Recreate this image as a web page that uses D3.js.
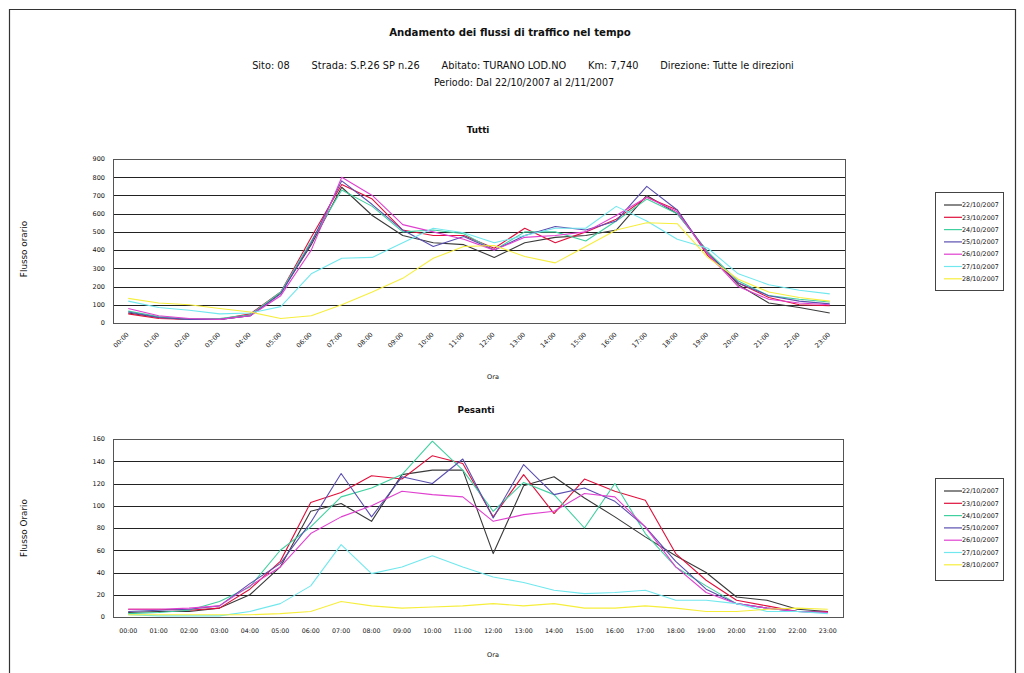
<!DOCTYPE html>
<html><head><meta charset="utf-8">
<script src="https://cdn.jsdelivr.net/npm/d3@7"></script>
<style>body{margin:0;background:#fff}svg{display:block}text{font-family:"DejaVu Sans",Verdana,sans-serif;fill:#111}</style>
</head><body>
<script>
const hours = ["00:00","01:00","02:00","03:00","04:00","05:00","06:00","07:00","08:00","09:00","10:00","11:00","12:00","13:00","14:00","15:00","16:00","17:00","18:00","19:00","20:00","21:00","22:00","23:00"];
const days = ["22/10/2007","23/10/2007","24/10/2007","25/10/2007","26/10/2007","27/10/2007","28/10/2007"];
const dayColors = ["#3a3a3a","#e0103c","#40d0a0","#5a4fb0","#e040d0","#70e8ee","#f6ee3c"];
const tuttiTicks = [0,100,200,300,400,500,600,700,800,900];
const pesantiTicks = [0,20,40,60,80,100,120,140,160];

// Tutti (all vehicles) hourly flows
const tutti22 = [55,30,20,20,40,165,430,745,590,480,440,430,360,440,470,480,510,700,600,390,210,110,85,55];
const tutti23 = [50,25,20,20,50,170,470,760,680,510,480,480,410,520,440,500,570,690,620,370,220,140,100,95];
const tutti24 = [65,35,20,25,45,170,450,730,640,500,510,490,400,500,500,450,560,680,600,390,230,150,130,115];
const tutti25 = [60,30,20,20,40,160,440,780,650,510,420,475,400,480,530,510,560,750,620,380,220,150,120,105];
const tutti26 = [80,40,25,20,40,150,400,800,700,540,500,460,400,470,480,500,590,690,610,380,200,130,110,100];
const tutti27 = [120,85,70,50,55,90,270,355,360,440,520,495,440,480,520,520,640,560,460,410,270,210,180,160];
const tutti28 = [135,110,100,80,60,25,40,100,170,245,355,420,425,365,330,420,510,550,545,360,240,170,140,120];

// Pesanti (heavy vehicles) hourly flows
const pes22 = [4,5,5,8,20,45,95,102,86,128,132,132,57,118,126,107,90,72,55,40,18,15,7,5];
const pes23 = [7,7,6,8,25,50,103,112,127,124,145,138,90,128,93,124,113,105,57,33,15,10,5,5];
const pes24 = [3,4,6,14,27,60,81,108,116,128,158,132,95,121,110,80,120,75,45,28,12,8,5,4];
const pes25 = [5,6,7,10,30,48,85,129,90,126,120,142,89,137,110,116,104,81,50,25,12,8,5,4];
const pes26 = [7,7,8,10,28,45,75,90,100,113,110,108,86,92,95,111,108,81,45,22,12,8,5,4];
const pes27 = [2,1,1,1,5,12,28,65,39,45,55,45,36,31,24,21,22,24,15,15,12,5,5,3];
const pes28 = [2,2,2,2,2,3,5,14,10,8,9,10,12,10,12,8,8,10,8,5,5,7,8,7];

const tuttiSeries = [tutti22,tutti23,tutti24,tutti25,tutti26,tutti27,tutti28];
const pesantiSeries = [pes22,pes23,pes24,pes25,pes26,pes27,pes28];

const svg = d3.select("body").append("svg").attr("width",1024).attr("height",673);
svg.append("rect").attr("width",1024).attr("height",673).attr("fill","#fff");
svg.append("path").attr("d","M9.5,680V9.5H1015.5V680").attr("fill","none").attr("stroke","#333").attr("stroke-width",1.2);

svg.append("text").attr("x",510).attr("y",36).attr("text-anchor","middle").attr("font-size",10.2).attr("font-weight","bold").text("Andamento dei  flussi di traffico nel tempo");
svg.append("text").attr("x",523).attr("y",68.5).attr("text-anchor","middle").attr("font-size",9.8).attr("xml:space","preserve").text("Sito: 08       Strada: S.P.26 SP n.26       Abitato: TURANO LOD.NO       Km: 7,740       Direzione: Tutte le direzioni");
svg.append("text").attr("x",524).attr("y",85.5).attr("text-anchor","middle").attr("font-size",9.6).text("Periodo: Dal 22/10/2007 al 2/11/2007");

function chart(cfg){
  const g = svg.append("g");
  const x = d3.scaleBand().domain(hours).range([cfg.left, cfg.right]);
  const y = d3.scaleLinear().domain([0, cfg.max]).range([cfg.bottom, cfg.top]);
  const cx = h => x(h) + x.bandwidth()/2;
  g.selectAll("line.grid").data(cfg.ticks).join("line")
    .attr("x1",cfg.left).attr("x2",cfg.right)
    .attr("y1",d=>Math.round(y(d))+0.5).attr("y2",d=>Math.round(y(d))+0.5)
    .attr("stroke","#222").attr("stroke-width",1);
  g.append("rect").attr("x",cfg.left+0.5).attr("y",Math.round(y(cfg.max))+0.5)
    .attr("width",cfg.right-cfg.left).attr("height",Math.round(y(0))-Math.round(y(cfg.max)))
    .attr("fill","none").attr("stroke","#555");
  g.selectAll("text.yt").data(cfg.ticks).join("text")
    .attr("x",cfg.left-8).attr("y",d=>y(d)+2.3).attr("text-anchor","end")
    .attr("font-size",6.5).text(d=>d);
  if(cfg.rotate){
    g.selectAll("text.xt").data(hours).join("text")
      .attr("transform",h=>`translate(${cx(h)+1},${cfg.bottom+12}) rotate(-45)`)
      .attr("text-anchor","end").attr("font-size",6.5).text(h=>h);
  } else {
    g.selectAll("text.xt").data(hours).join("text")
      .attr("x",h=>cx(h)).attr("y",cfg.bottom+16).attr("text-anchor","middle")
      .attr("font-size",6.3).text(h=>h);
  }
  const line = d3.line().x((d,i)=>cx(hours[i])).y(d=>y(d));
  g.selectAll("path.s").data(cfg.series).join("path")
    .attr("d",d=>line(d)).attr("fill","none")
    .attr("stroke",(d,i)=>dayColors[i]).attr("stroke-width",1.1).attr("stroke-linejoin","round");
  g.append("text").attr("x",cfg.titleX).attr("y",cfg.titleY).attr("text-anchor","middle")
    .attr("font-size",8.8).attr("font-weight","bold").text(cfg.title);
  g.append("text").attr("transform",`translate(27,${cfg.yTitleY}) rotate(-90)`)
    .attr("text-anchor","middle").attr("font-size",8.8).text(cfg.yTitle);
  g.append("text").attr("x",493).attr("y",cfg.xTitleY).attr("text-anchor","middle")
    .attr("font-size",6.5).text("Ora");
  const lg = g.append("g");
  lg.append("rect").attr("x",935.5).attr("y",cfg.legY+0.5).attr("width",68).attr("height",cfg.legH)
    .attr("fill","#fff").attr("stroke","#444");
  days.forEach((d,i)=>{
    const yy = cfg.legY+13+i*12.3;
    lg.append("line").attr("x1",944).attr("x2",962).attr("y1",yy).attr("y2",yy)
      .attr("stroke",dayColors[i]).attr("stroke-width",1.2);
    lg.append("text").attr("x",962).attr("y",yy+2.2).attr("font-size",6.4).text(d);
  });
}

chart({left:113,right:845,top:159,bottom:323,max:900,ticks:tuttiTicks,series:tuttiSeries,rotate:true,
  title:"Tutti",titleX:478,titleY:133,yTitle:"Flusso orario",yTitleY:249,xTitleY:379,legY:192,legH:98});
chart({left:113,right:843,top:439,bottom:617,max:160,ticks:pesantiTicks,series:pesantiSeries,rotate:false,
  title:"Pesanti",titleX:476,titleY:413,yTitle:"Flusso Orario",yTitleY:528,xTitleY:657,legY:478,legH:102});
</script>
</body></html>
